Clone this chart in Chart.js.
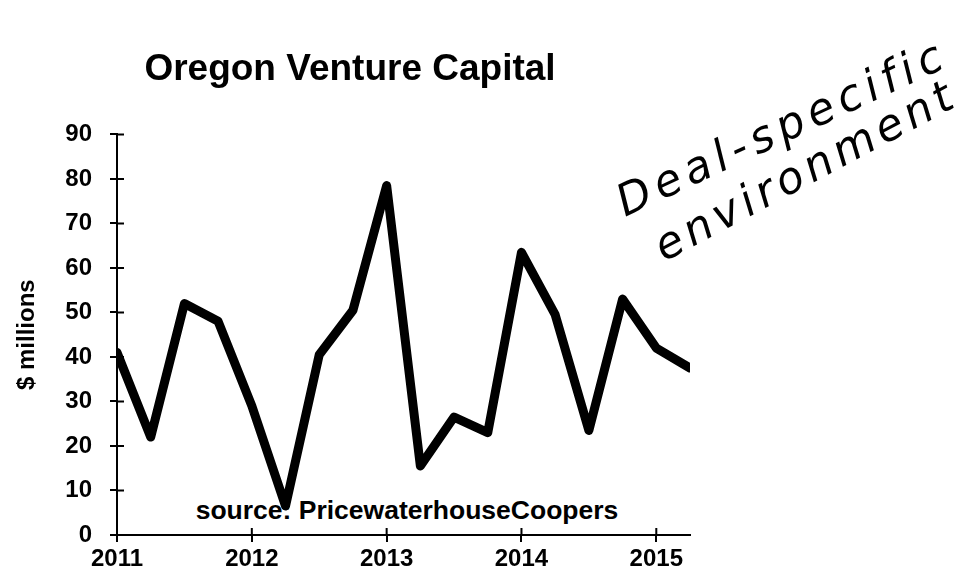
<!DOCTYPE html>
<html>
<head>
<meta charset="utf-8">
<script src="https://cdn.jsdelivr.net/npm/chart.js@4"></script>
<style>
body { margin: 0; background: #fff; }
#wrap { position: relative; width: 967px; height: 581px; }
#wrap svg, #wrap canvas { position: absolute; left: 0; top: 0; }
#note { pointer-events: none; }
.hand { font-family: "DejaVu Sans"; font-style: italic; font-weight: 300; font-size: 44px; letter-spacing: 6px; fill: #000; }
.src { font-family: "Liberation Sans", Arial; font-weight: bold; font-size: 26.5px; fill: #000; }
</style>
</head>
<body>
<div id="wrap">
<!-- source text sits under the line -->
<svg id="source" width="967" height="581">
  <text class="src" x="407" y="519" text-anchor="middle">source: PricewaterhouseCoopers</text>
</svg>
<canvas id="chart" width="967" height="581"></canvas>
<svg id="note" width="967" height="581">
  <text class="hand" x="625" y="217" transform="rotate(-25 625 217)">Deal-specific</text>
  <text class="hand" x="664" y="262" transform="rotate(-28 664 262)" style="letter-spacing:5px">environment</text>
</svg>
</div>
<script>
// quarterly values, 2011 Q1 .. 2015 Q2
const quarters = [2011, 2011.25, 2011.5, 2011.75, 2012, 2012.25, 2012.5, 2012.75,
                  2013, 2013.25, 2013.5, 2013.75, 2014, 2014.25, 2014.5, 2014.75,
                  2015, 2015.25];
const millions = [41, 22, 52, 48, 29, 6.5, 40.5, 50.5,
                  78.5, 15.5, 26.5, 23, 63.5, 49.5, 23.5, 53,
                  42, 37.5];
const yearTicks = [2011, 2012, 2013, 2014, 2015];

const points = quarters.map((q, i) => ({x: q, y: millions[i]}));

const tickFont = {family: "'Liberation Sans', Arial", weight: 'bold', size: 24};

// ticks that cross the axis line (inner half)
const innerTicks = {
    id: 'innerTicks',
    afterDraw(chart) {
        const ctx = chart.ctx;
        const xs = chart.scales.x, ys = chart.scales.y;
        ctx.save();
        ctx.strokeStyle = '#000';
        ctx.lineWidth = 2;
        ctx.beginPath();
        ys.ticks.forEach(t => {
            const py = ys.getPixelForValue(t.value);
            ctx.moveTo(xs.left, py);
            ctx.lineTo(xs.left + 7, py);
        });
        xs.ticks.forEach(t => {
            const px = xs.getPixelForValue(t.value);
            ctx.moveTo(px, ys.bottom);
            ctx.lineTo(px, ys.bottom - 7);
        });
        ctx.stroke();
        ctx.restore();
    }
};

new Chart(document.getElementById('chart'), {
    type: 'line',
    data: {
        datasets: [{
            data: points,
            borderColor: '#000',
            borderWidth: 9,
            borderJoinStyle: 'round',
            borderCapStyle: 'round',
            pointRadius: 0,
            tension: 0
        }]
    },
    options: {
        responsive: false,
        animation: false,
        devicePixelRatio: 1,
        layout: {padding: {left: 10, right: 277, top: 0, bottom: 0}},
        plugins: {
            legend: {display: false},
            tooltip: {enabled: false},
            title: {
                display: true,
                text: 'Oregon Venture Capital',
                color: '#000',
                font: {family: "'Liberation Sans', Arial", weight: 'bold', size: 37},
                padding: {top: 48, bottom: 42}
            }
        },
        scales: {
            x: {
                type: 'linear',
                min: 2011,
                max: 2015.25,
                afterBuildTicks: s => { s.ticks = yearTicks.map(v => ({value: v})); },
                afterFit: s => { s.height = 46; },
                border: {color: '#000', width: 2},
                grid: {drawOnChartArea: false, color: '#000', lineWidth: 2, tickLength: 7},
                ticks: {color: '#000', font: tickFont, padding: 3, maxRotation: 0,
                        callback: v => String(v)}
            },
            y: {
                min: 0,
                max: 90,
                afterFit: s => { s.width = 107; },
                border: {color: '#000', width: 2},
                grid: {drawOnChartArea: false, color: '#000', lineWidth: 2, tickLength: 7},
                ticks: {color: '#000', font: tickFont, stepSize: 10, padding: 18},
                title: {
                    display: true,
                    text: '$ millions',
                    color: '#000',
                    font: {family: "'Liberation Sans', Arial", weight: 'bold', size: 24},
                    padding: {top: 3, bottom: 0}
                }
            }
        }
    },
    plugins: [innerTicks]
});
</script>
</body>
</html>
